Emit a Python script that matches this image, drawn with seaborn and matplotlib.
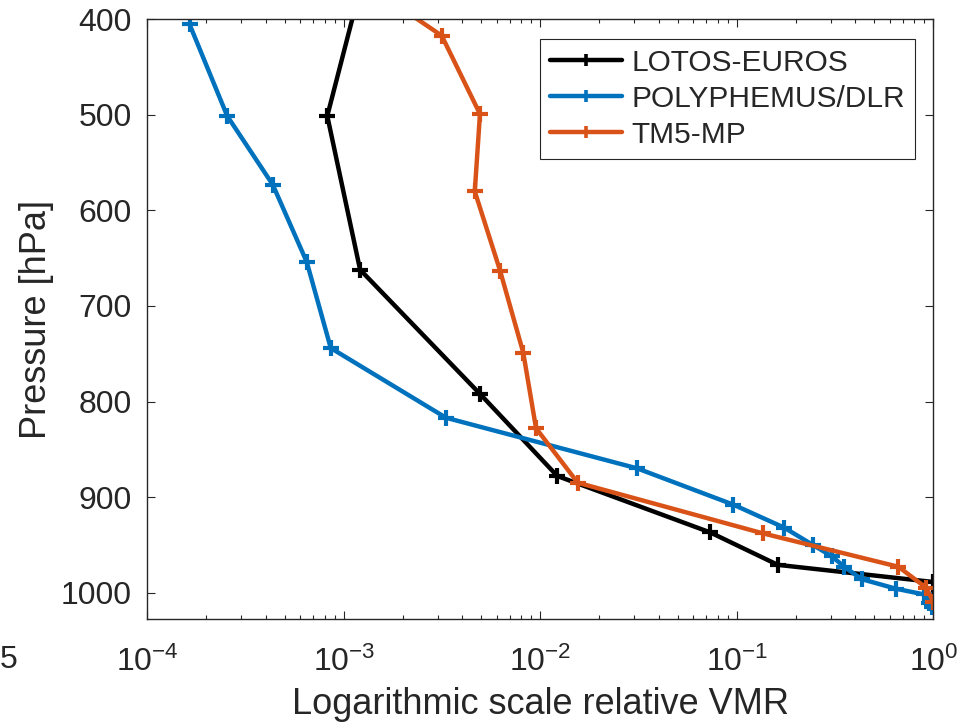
import numpy as np
import pandas as pd
import matplotlib
matplotlib.use("Agg")
import matplotlib.pyplot as plt
import matplotlib.ticker as mticker
import seaborn as sns

# ---------------- data ----------------
models = ["LOTOS-EUROS", "POLYPHEMUS/DLR", "TM5-MP"]

lotos_vmr = [1.35e-3, 8.24e-4, 1.21e-3, 4.93e-3, 1.22e-2, 7.31e-2, 0.1615, 1.0, 1.0]
lotos_p = [330, 501, 662, 792, 878, 937, 971, 989, 1003]

poly_vmr = [1.64e-4, 2.55e-4, 4.35e-4, 6.48e-4, 8.58e-4, 3.31e-3, 3.11e-2, 9.60e-2,
            0.174, 0.243, 0.304, 0.352, 0.432, 0.645, 0.897, 0.954, 0.98]
poly_p = [405, 501, 573, 654, 744, 817, 870, 908,
          932, 950, 962, 973, 986, 996, 1002, 1011, 1015]

tm5_vmr = [1.45e-3, 3.15e-3, 4.93e-3, 4.64e-3, 6.24e-3, 8.19e-3, 9.51e-3, 1.55e-2,
           0.1354, 0.664, 0.92, 1.0]
tm5_p = [370, 417, 499, 580, 663, 749, 828, 885, 938, 973, 995, 1010]

y_ticks = [400, 500, 600, 700, 800, 900, 1000]

colors = {"LOTOS-EUROS": "#000000", "POLYPHEMUS/DLR": "#0072BD", "TM5-MP": "#D95319"}

rows = []
for m, xs, ps in zip(models, [lotos_vmr, poly_vmr, tm5_vmr], [lotos_p, poly_p, tm5_p]):
    for i, (x, p) in enumerate(zip(xs, ps)):
        rows.append({"model": m, "vmr": x, "p": p, "idx": i})
df = pd.DataFrame(rows)

# ---------------- style ----------------
sns.set_style("ticks")
plt.rcParams["font.family"] = ["Liberation Sans", "DejaVu Sans"]
plt.rcParams["mathtext.fontset"] = "custom"
plt.rcParams["mathtext.rm"] = "Liberation Sans"
plt.rcParams["mathtext.it"] = "Liberation Sans:italic"
plt.rcParams["mathtext.bf"] = "Liberation Sans:bold"
plt.rcParams["mathtext.sf"] = "Liberation Sans"
plt.rcParams["axes.unicode_minus"] = False

txt = "#262626"

fig = plt.figure(figsize=(9.64, 7.26), dpi=100)
ax = fig.add_axes([0.1528, 0.1470, 0.8154, 0.8262])

sns.lineplot(data=df, x="vmr", y="p", hue="model", hue_order=models, palette=colors,
             sort=False, estimator=None, units="model", marker="+", markersize=11,
             markeredgewidth=3.0, linewidth=3.2, ax=ax, legend=True)

# marker edges in the line colour (seaborn defaults them to white)
for ln in ax.lines:
    ln.set_markeredgecolor(ln.get_color())
    ln.set_markerfacecolor(ln.get_color())

ax.set_xscale("log")
ax.set_xlim(1e-4, 1)
ax.set_ylim(1028, 400)
ax.set_yticks(y_ticks)
ax.xaxis.set_major_locator(mticker.LogLocator(base=10, numticks=10))
ax.xaxis.set_minor_locator(mticker.LogLocator(base=10, subs=np.arange(2, 10), numticks=20))

for s in ax.spines.values():
    s.set_color(txt)
    s.set_linewidth(1.0)

ax.tick_params(which="both", direction="in", top=True, right=True, colors=txt)
ax.tick_params(which="major", length=5.5, width=0.8, labelsize=23)
ax.tick_params(which="minor", length=2.8, width=0.8)
ax.tick_params(axis="x", which="major", pad=20)
ax.tick_params(axis="y", which="major", pad=11)

ax.set_xlabel("Logarithmic scale relative VMR", fontsize=26, color=txt, labelpad=6)
ax.set_ylabel("Pressure [hPa]", fontsize=26, color=txt, labelpad=5)

leg = ax.legend(loc="upper right", bbox_to_anchor=(0.9767, 0.9675), borderaxespad=0,
                fontsize=21.5, frameon=True, fancybox=False, framealpha=1,
                edgecolor=txt, handlelength=2.4, handletextpad=0.33,
                labelspacing=0.27, borderpad=0.33, title=None)
leg.get_frame().set_linewidth(0.8)
for h in leg.get_lines():
    h.set_linewidth(3.2)
    h.set_markersize(9)
    h.set_markeredgewidth(2.6)
    h.set_markeredgecolor(h.get_color())
    h.set_markerfacecolor(h.get_color())

# cropped neighbour tick label at the very left edge
fig.text(0.0, 1 - 660 / 726, "5", fontsize=23, color=txt, ha="left", va="center")

fig.savefig("out.png", dpi=100)
